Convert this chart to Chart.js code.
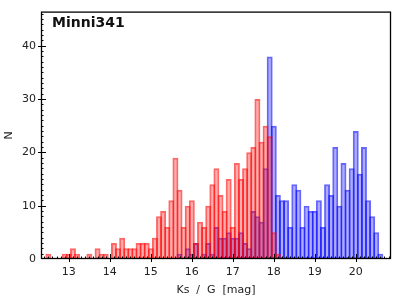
<!DOCTYPE html>
<html>
<head>
<meta charset="utf-8">
<script src="https://cdn.jsdelivr.net/npm/chart.js@4.4.0/dist/chart.umd.min.js"></script>
<style>
  html, body { margin: 0; padding: 0; background: #fff; }
</style>
</head>
<body>
<canvas id="histChart" width="400" height="300"></canvas>
<script>
// bin centres [mag], bins are 0.1 mag wide
const mags = [
  12.5, 12.6, 12.7, 12.8, 12.9, 13.0, 13.1, 13.2, 13.3, 13.4,
  13.5, 13.6, 13.7, 13.8, 13.9, 14.0, 14.1, 14.2, 14.3, 14.4,
  14.5, 14.6, 14.7, 14.8, 14.9, 15.0, 15.1, 15.2, 15.3, 15.4,
  15.5, 15.6, 15.7, 15.8, 15.9, 16.0, 16.1, 16.2, 16.3, 16.4,
  16.5, 16.6, 16.7, 16.8, 16.9, 17.0, 17.1, 17.2, 17.3, 17.4,
  17.5, 17.6, 17.7, 17.8, 17.9, 18.0, 18.1, 18.2, 18.3, 18.4,
  18.5, 18.6, 18.7, 18.8, 18.9, 19.0, 19.1, 19.2, 19.3, 19.4,
  19.5, 19.6, 19.7, 19.8, 19.9, 20.0, 20.1, 20.2, 20.3, 20.4,
  20.5, 20.6
];

// Ks counts (red)
const ksCounts = [
  1, 0, 0, 0, 1, 1, 2, 1, 0, 0,
  1, 0, 2, 1, 1, 0, 3, 2, 4, 2,
  2, 2, 3, 3, 3, 2, 4, 8, 9, 6,
  11, 19, 13, 6, 10, 11, 3, 7, 6, 10,
  14, 17, 12, 9, 15, 6, 18, 15, 17, 20,
  21, 30, 22, 25, 23, 5, 1, 0, 0, 0,
  0, 0, 0, 0, 0, 0, 0, 0, 0, 0,
  0, 0, 0, 0, 0, 0, 0, 0, 0, 0,
  0, 0
];

// G counts (blue)
const gCounts = [
  0, 0, 0, 0, 0, 0, 0, 0, 0, 0,
  0, 0, 0, 0, 0, 0, 0, 0, 0, 0,
  0, 0, 0, 0, 0, 0, 0, 0, 0, 0,
  0, 0, 1, 0, 2, 1, 3, 0, 1, 3,
  1, 6, 4, 4, 5, 4, 4, 5, 3, 2,
  9, 8, 7, 17, 38, 25, 12, 11, 11, 6,
  14, 13, 6, 10, 9, 9, 11, 6, 14, 12,
  21, 10, 18, 13, 17, 24, 16, 21, 11, 8,
  5, 1
];

const xTicks = [13, 14, 15, 16, 17, 18, 19, 20];
const yTicks = [0, 10, 20, 30, 40];

const fontFamily = "'DejaVu Sans', sans-serif";

// empty bins get no bar at all
function toPoints(counts) {
  return mags.map((m, i) => ({ x: m, y: counts[i] > 0 ? counts[i] : null }));
}

// frame box, inward minor ticks and the cluster name
const frameAndTicks = {
  id: 'frameAndTicks',
  afterDatasetsDraw(chart) {
    const { ctx, chartArea: a, scales: { x, y } } = chart;
    ctx.save();
    ctx.strokeStyle = '#000';
    ctx.lineWidth = 1;
    ctx.beginPath();
    for (let k = Math.ceil(x.min * 10); k <= Math.floor(x.max * 10); k++) {
      const px = Math.round(x.getPixelForValue(k / 10)) + 0.5;
      const major = k % 10 === 0;
      ctx.moveTo(px, a.bottom + (major ? 3 : 0));
      ctx.lineTo(px, a.bottom - (major ? 5 : 2.5));
    }
    for (let n = 1; n < y.max; n++) {
      const py = Math.round(y.getPixelForValue(n)) + 0.5;
      const major = n % 10 === 0;
      ctx.moveTo(a.left - (major ? 3 : 0), py);
      ctx.lineTo(a.left + (major ? 5 : 2.5), py);
    }
    ctx.stroke();

    ctx.lineWidth = 1.3;
    ctx.strokeRect(a.left + 0.5, a.top + 0.5, a.width - 1, a.height - 1);

    ctx.fillStyle = '#111';
    ctx.font = 'bold 14px ' + fontFamily;
    ctx.textBaseline = 'alphabetic';
    ctx.fillText('Minni341', 52, 27);
    ctx.restore();
  }
};

const ctx = document.getElementById('histChart').getContext('2d');
new Chart(ctx, {
  type: 'bar',
  data: {
    datasets: [
      {
        label: 'Ks',
        data: toPoints(ksCounts),
        backgroundColor: 'rgba(255, 0, 0, 0.32)',
        borderColor: 'rgba(255, 0, 0, 0.6)',
        borderWidth: 2,
        borderSkipped: false,
        inflateAmount: 0,
        grouped: false,
        barPercentage: 1.45,
        categoryPercentage: 1
      },
      {
        label: 'G',
        data: toPoints(gCounts),
        backgroundColor: 'rgba(0, 0, 255, 0.32)',
        borderColor: 'rgba(0, 0, 255, 0.6)',
        borderWidth: 2,
        borderSkipped: false,
        inflateAmount: 0,
        grouped: false,
        barPercentage: 1.45,
        categoryPercentage: 1
      }
    ]
  },
  options: {
    responsive: false,
    animation: false,
    devicePixelRatio: 1,
    layout: { padding: { left: 0, top: 9, right: 9, bottom: 0 } },
    plugins: {
      legend: { display: false },
      tooltip: { enabled: false }
    },
    scales: {
      x: {
        type: 'linear',
        min: 12.32,
        max: 20.86,
        offset: false,
        grid: { display: false, drawTicks: false, offset: false },
        border: { display: false },
        afterBuildTicks: (scale) => { scale.ticks = xTicks.map(v => ({ value: v })); },
        afterFit: (scale) => { scale.height = 41; },
        ticks: {
          padding: 7,
          color: '#222',
          font: { family: fontFamily, size: 11 },
          maxRotation: 0
        },
        title: {
          display: true,
          text: 'Ks  /  G  [mag]',
          color: '#222',
          font: { family: fontFamily, size: 11 },
          padding: { top: 0, bottom: 3 }
        }
      },
      y: {
        min: 0,
        max: 46.4,
        grid: { display: false, drawTicks: false },
        border: { display: false },
        afterBuildTicks: (scale) => { scale.ticks = yTicks.map(v => ({ value: v })); },
        afterFit: (scale) => { scale.width = 41; },
        ticks: {
          padding: 5,
          color: '#222',
          font: { family: fontFamily, size: 11 }
        },
        title: {
          display: true,
          text: 'N',
          color: '#222',
          font: { family: fontFamily, size: 11 },
          padding: { top: 3, bottom: 0 }
        }
      }
    }
  },
  plugins: [frameAndTicks]
});
</script>
</body>
</html>
